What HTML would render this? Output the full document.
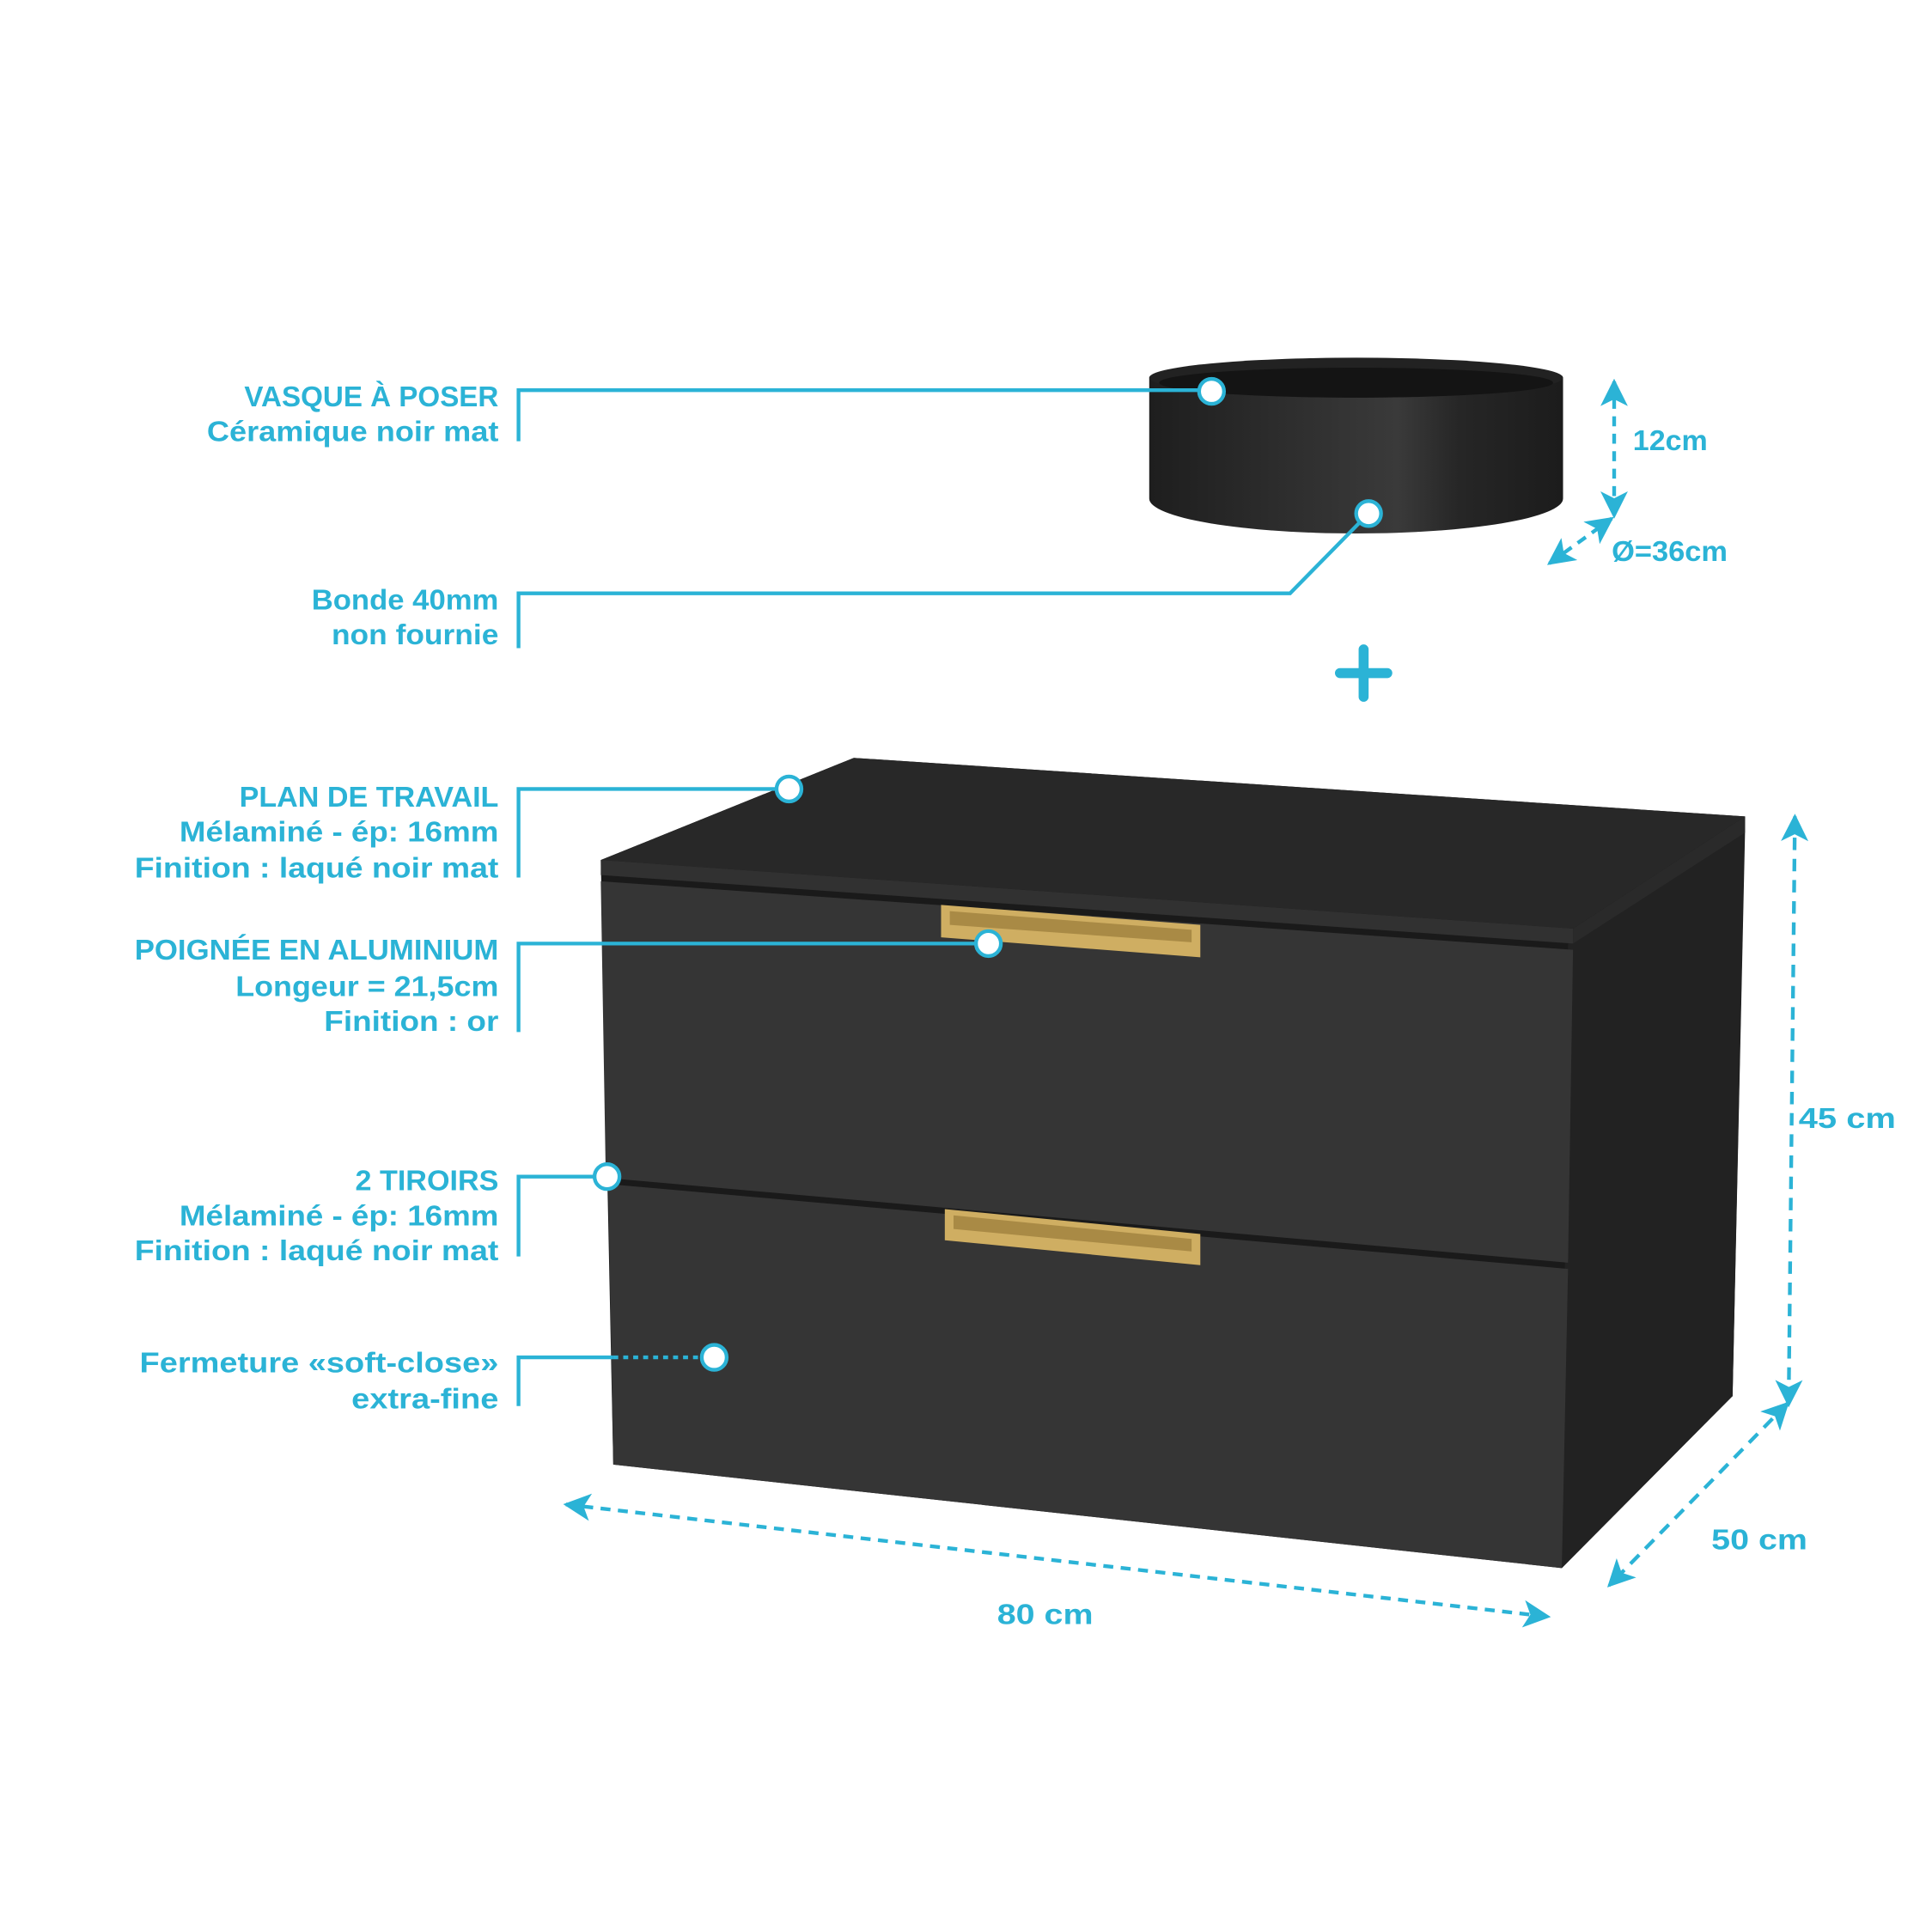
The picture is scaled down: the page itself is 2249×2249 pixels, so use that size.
<!DOCTYPE html>
<html><head><meta charset="utf-8"><style>
html,body{margin:0;padding:0;background:#fff}
svg{display:block}
text{font-family:"Liberation Sans",sans-serif;font-weight:bold;fill:#2bb3d6;font-size:23px}
</style></head><body>
<svg width="2249" height="2249" viewBox="0 0 1550 1550" xmlns="http://www.w3.org/2000/svg">
<defs>
<linearGradient id="bowl" x1="0" x2="1">
<stop offset="0" stop-color="#1e1e1e"/><stop offset="0.6" stop-color="#3a3a3a"/><stop offset="0.75" stop-color="#262626"/><stop offset="1" stop-color="#1c1c1c"/>
</linearGradient>
<marker id="ah" viewBox="0 0 20 20" refX="18" refY="10" markerWidth="22" markerHeight="22" markerUnits="userSpaceOnUse" orient="auto-start-reverse">
<path d="M0,0 L20,10 L0,20 L5,10 Z" fill="#2bb3d6"/>
</marker>
</defs>
<!-- bowl -->
<path d="M922,303 L922,400 A166,28 0 0 0 1254,400 L1254,303 Z" fill="url(#bowl)"/>
<ellipse cx="1088" cy="303" rx="166" ry="16" fill="#222"/>
<ellipse cx="1088" cy="307" rx="158" ry="12" fill="#141414"/>
<!-- cabinet -->
<polygon points="482,690 685,608 1400,655 1390,1120 1253,1258 492,1175" fill="#1a1a1a"/>
<polygon points="1262,745 1400,655 1400,668 1390,1120 1253,1258 1258,757" fill="#222"/>
<polygon points="685,608 1400,655 1262,745 482,690" fill="#282828"/>
<polygon points="482,690 1262,745 1262,757 482,702" fill="#313131"/>
<polygon points="1262,745 1400,655 1400,668 1262,757" fill="#2a2a2a"/>
<polygon points="482,707 1262,762 1258,1013 486,945" fill="#353535"/>
<polygon points="488,950 1258,1018 1253,1258 492,1175" fill="#353535"/>
<!-- handles -->
<polygon points="755,726 963,742 963,768 755,752" fill="#cfae62"/>
<polygon points="762,731 956,746 956,756 762,742" fill="#a98a45"/>
<polygon points="758,970 963,990 963,1015 758,995" fill="#cfae62"/>
<polygon points="765,975 956,994 956,1004 765,986" fill="#a98a45"/>
<!-- plus -->
<path d="M1075,540 H1113 M1094,521 V559" stroke="#2bb3d6" stroke-width="8" stroke-linecap="round"/>
<!-- leaders -->
<g stroke="#2bb3d6" stroke-width="3" fill="none">
<path d="M416,354 V313 H962"/>
<path d="M416,520 V476 H1035 L1092,418"/>
<path d="M416,704 V633 H623"/>
<path d="M416,828 V757 H783"/>
<path d="M416,1008 V944 H477"/>
<path d="M416,1128 V1089 H492"/>
<path d="M492,1089 H564" stroke-dasharray="4 4"/>
</g>
<g fill="#fff" stroke="#2bb3d6" stroke-width="3">
<circle cx="972" cy="314" r="10"/><circle cx="1098" cy="412" r="10"/>
<circle cx="633" cy="633" r="10"/><circle cx="793" cy="757" r="10"/>
<circle cx="487" cy="944" r="10"/><circle cx="573" cy="1089" r="10"/>
</g>
<!-- dimensions -->
<g stroke="#2bb3d6" stroke-width="3" fill="none" marker-start="url(#ah)" marker-end="url(#ah)">
<path d="M1295,306 V414" stroke-dasharray="8 6"/>
<path d="M1243,452 L1293,416" stroke-dasharray="8 6"/>
<path d="M1440,655 L1435,1127" stroke-dasharray="10 7"/>
<path d="M1434,1126 L1291,1272" stroke-dasharray="10 7"/>
<path d="M454,1207 L1242,1297" stroke-dasharray="8 6"/>
</g>
<!-- labels -->
<g text-anchor="end">
<text x="400" y="326" textLength="204" lengthAdjust="spacingAndGlyphs">VASQUE À POSER</text>
<text x="400" y="354" textLength="234" lengthAdjust="spacingAndGlyphs">Céramique noir mat</text>
<text x="400" y="489" textLength="150" lengthAdjust="spacingAndGlyphs">Bonde 40mm</text>
<text x="400" y="517" textLength="134" lengthAdjust="spacingAndGlyphs">non fournie</text>
<text x="400" y="647" textLength="208" lengthAdjust="spacingAndGlyphs">PLAN DE TRAVAIL</text>
<text x="400" y="675" textLength="256" lengthAdjust="spacingAndGlyphs">Mélaminé - ép: 16mm</text>
<text x="400" y="704" textLength="292" lengthAdjust="spacingAndGlyphs">Finition : laqué noir mat</text>
<text x="400" y="770" textLength="292" lengthAdjust="spacingAndGlyphs">POIGNÉE EN ALUMINIUM</text>
<text x="400" y="799" textLength="211" lengthAdjust="spacingAndGlyphs">Longeur = 21,5cm</text>
<text x="400" y="827" textLength="140" lengthAdjust="spacingAndGlyphs">Finition : or</text>
<text x="400" y="955" textLength="115" lengthAdjust="spacingAndGlyphs">2 TIROIRS</text>
<text x="400" y="983" textLength="256" lengthAdjust="spacingAndGlyphs">Mélaminé - ép: 16mm</text>
<text x="400" y="1011" textLength="292" lengthAdjust="spacingAndGlyphs">Finition : laqué noir mat</text>
<text x="400" y="1101" textLength="288" lengthAdjust="spacingAndGlyphs">Fermeture «soft-close»</text>
<text x="400" y="1130" textLength="118" lengthAdjust="spacingAndGlyphs">extra-fine</text>
</g>
<text x="1310" y="361" textLength="60" lengthAdjust="spacingAndGlyphs">12cm</text>
<text x="1293" y="450" textLength="93" lengthAdjust="spacingAndGlyphs">Ø=36cm</text>
<text x="1443" y="905" font-size="28" textLength="78" lengthAdjust="spacingAndGlyphs">45 cm</text>
<text x="1373" y="1243" font-size="28" textLength="77" lengthAdjust="spacingAndGlyphs">50 cm</text>
<text x="800" y="1303" font-size="28" textLength="77" lengthAdjust="spacingAndGlyphs">80 cm</text>
</svg>
</body></html>
